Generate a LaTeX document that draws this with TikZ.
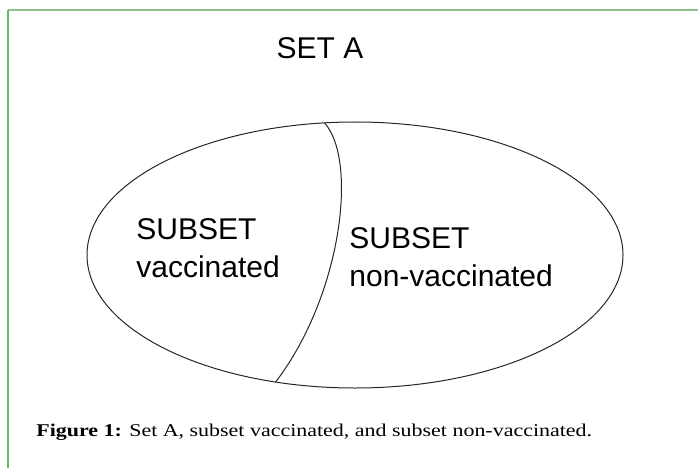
\documentclass[tikz,border=0pt]{standalone}
\usepackage{fontspec}
\setmainfont{Liberation Serif}
\newfontfamily\arialfont{Liberation Sans}
\newfontfamily\captionfont[FakeStretch=1.22]{Liberation Serif}
\usepackage{tikz}
\usetikzlibrary{shapes.geometric}

\begin{document}
\begin{tikzpicture}[x=1pt, y=-1pt, thick]
      \tikzstyle{frame} = [line width=1.5pt]
      \tikzstyle{set node} = [ellipse, draw=black!85, line width=1pt, inner sep=0pt, outer sep=0pt,
         minimum width=536pt, minimum height=266pt]
      \tikzstyle{label} = [inner sep=0pt, font=\arialfont\fontsize{30}{38}\selectfont, align=left]
      \useasboundingbox (0,0) rectangle (698,468);
      %frame
      \draw[frame, draw=green!45!black!45] (8,10) -- (698,10);
      \draw[frame, draw=green!55!black!60] (8,10) -- (8,468);
      %nodes
      \node[set node]                          (setA)    at (355,255)  {};
      \node[label, anchor=base]                (title)   at (320,59)   {SET A};
      \node[label, anchor=north west]          (vacc)    at (136,218)  {SUBSET\\vaccinated};
      \node[label, anchor=north west]          (nonvacc) at (349,227)  {SUBSET\\non-vaccinated};
      \node[inner sep=0pt, anchor=base west, font=\captionfont\fontsize{18}{22}\selectfont]
                                               (caption) at (36,436)   {\textbf{Figure 1:} Set A, subset vaccinated, and subset non-vaccinated.};
      %lines
      \draw[draw=black!85, line width=1pt] (setA.103.6) .. controls (358,160) and (342,295) .. (setA.238.4);
\end{tikzpicture}
\end{document}
